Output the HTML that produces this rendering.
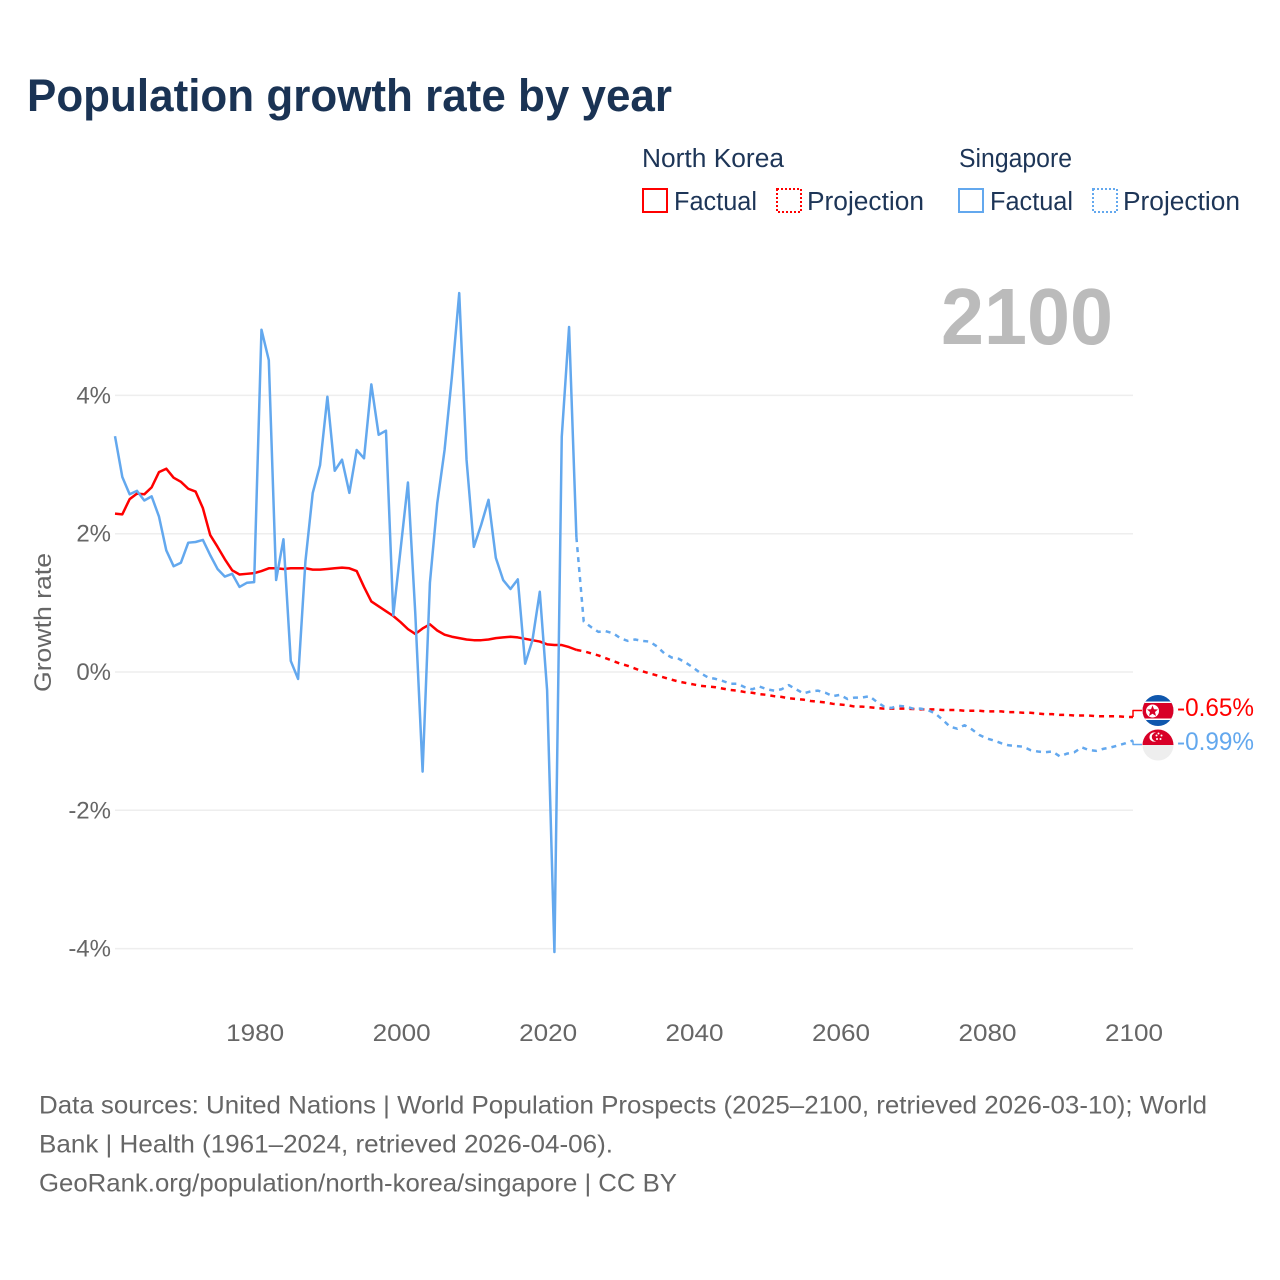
<!DOCTYPE html>
<html lang="en">
<head>
<meta charset="utf-8">
<title>Population growth rate by year</title>
<style>
html,body{margin:0;padding:0;background:#fff;}
svg{display:block;font-family:"Liberation Sans",sans-serif;}
</style>
</head>
<body>
<svg id="chart" xmlns="http://www.w3.org/2000/svg" width="1280" height="1280" viewBox="0 0 1280 1280">
  <rect width="1280" height="1280" fill="#fff"/>
  <text x="27" y="111" font-size="45" font-weight="700" fill="#1a3354" textLength="645" lengthAdjust="spacingAndGlyphs">Population growth rate by year</text>

  <g font-size="25.5" fill="#1d3557">
    <text x="642" y="167" textLength="142" lengthAdjust="spacingAndGlyphs">North Korea</text>
    <text x="959" y="167" textLength="113" lengthAdjust="spacingAndGlyphs">Singapore</text>
    <rect x="643" y="189" width="24" height="23" fill="none" stroke="#ff0000" stroke-width="2"/>
    <text x="674" y="210" textLength="83" lengthAdjust="spacingAndGlyphs">Factual</text>
    <rect x="777" y="189" width="24" height="23" fill="none" stroke="#ff0000" stroke-width="2" stroke-dasharray="2 2"/>
    <text x="807" y="210" textLength="117" lengthAdjust="spacingAndGlyphs">Projection</text>
    <rect x="959" y="189" width="24" height="23" fill="none" stroke="#63a8ee" stroke-width="2"/>
    <text x="990" y="210" textLength="83" lengthAdjust="spacingAndGlyphs">Factual</text>
    <rect x="1093" y="189" width="24" height="23" fill="none" stroke="#63a8ee" stroke-width="2" stroke-dasharray="2 2"/>
    <text x="1123" y="210" textLength="117" lengthAdjust="spacingAndGlyphs">Projection</text>
  </g>

  <text x="941" y="344" font-size="80" font-weight="700" fill="#bbbbbb" textLength="172" lengthAdjust="spacingAndGlyphs">2100</text>
  <text transform="translate(51,692) rotate(-90)" font-size="24" fill="#666666" textLength="139" lengthAdjust="spacingAndGlyphs">Growth rate</text>

  <g id="grid"></g>
  <g id="yticks" font-size="24" fill="#666666" text-anchor="end"></g>
  <g id="xticks" font-size="24" fill="#666666" text-anchor="middle"></g>
  <g id="series" fill="none" stroke-width="2.5" stroke-linejoin="round"></g>

  <defs>
    <clipPath id="flag-clip-nk"><circle cx="1158" cy="710.5" r="15.5"/></clipPath>
    <clipPath id="flag-clip-sg"><circle cx="1158" cy="745" r="15.5"/></clipPath>
  </defs>
  <g clip-path="url(#flag-clip-nk)">
    <rect x="1142" y="695" width="32" height="32" fill="#0f57ad"/>
    <rect x="1142" y="701.5" width="32" height="18.5" fill="#fff"/>
    <rect x="1142" y="703" width="32" height="15.5" fill="#d80027"/>
    <circle cx="1152.5" cy="711" r="6.5" fill="#fff"/>
    <polygon points="1152.5,705.5 1154,709.2 1158,709.5 1155,712 1156,716 1152.5,713.8 1149,716 1150,712 1147,709.5 1151,709.2" fill="#d80027"/>
  </g>
  <g clip-path="url(#flag-clip-sg)">
    <rect x="1142" y="729" width="32" height="16" fill="#d80027"/>
    <rect x="1142" y="745" width="32" height="16" fill="#eeeeee"/>
    <circle cx="1154" cy="737" r="4.6" fill="#fff"/>
    <circle cx="1156" cy="737" r="4.2" fill="#d80027"/>
    <circle cx="1158.5" cy="733.5" r="1" fill="#fff"/>
    <circle cx="1161.5" cy="735.5" r="1" fill="#fff"/>
    <circle cx="1160.5" cy="739" r="1" fill="#fff"/>
    <circle cx="1157" cy="739" r="1" fill="#fff"/>
    <circle cx="1156.5" cy="735.5" r="1" fill="#fff"/>
  </g>
  <text id="end-label-nk" x="1177" y="716" font-size="25" fill="#ff0000" textLength="77" lengthAdjust="spacingAndGlyphs"></text>
  <text id="end-label-sg" x="1177" y="750" font-size="25" fill="#63a8ee" textLength="77" lengthAdjust="spacingAndGlyphs"></text>

  <g font-size="25" fill="#666666">
    <text x="39" y="1113.5" textLength="1168" lengthAdjust="spacingAndGlyphs">Data sources: United Nations | World Population Prospects (2025–2100, retrieved 2026-03-10); World</text>
    <text x="39" y="1152.5" textLength="574" lengthAdjust="spacingAndGlyphs">Bank | Health (1961–2024, retrieved 2026-04-06).</text>
    <text x="39" y="1191.5" textLength="638" lengthAdjust="spacingAndGlyphs">GeoRank.org/population/north-korea/singapore | CC BY</text>
  </g>
</svg>
<script>
const factualStartYear = 1961;
const projectionStartYear = 2024;
const xTickYears = [1980, 2000, 2020, 2040, 2060, 2080, 2100];
const yTickValues = [4, 2, 0, -2, -4];
const northKoreaFactual = [
  2.29,2.28,2.50,2.58,2.57,2.67,2.89,2.94,2.81,2.75,
  2.65,2.61,2.37,1.98,1.81,1.63,1.47,1.41,1.42,1.43,
  1.46,1.50,1.50,1.49,1.50,1.50,1.50,1.48,1.48,1.49,
  1.50,1.51,1.50,1.46,1.23,1.02,0.95,0.88,0.81,0.72,
  0.62,0.55,0.63,0.69,0.60,0.54,0.51,0.49,0.47,0.46,
  0.46,0.47,0.49,0.50,0.51,0.50,0.48,0.46,0.44,0.40,
  0.39,0.39,0.36,0.32
];
const singaporeFactual = [
  3.41,2.82,2.57,2.62,2.48,2.54,2.25,1.76,1.53,1.58,
  1.87,1.88,1.91,1.69,1.49,1.38,1.42,1.23,1.29,1.30,
  4.95,4.51,1.33,1.92,0.16,-0.10,1.60,2.59,2.99,3.98,
  2.91,3.07,2.59,3.21,3.09,4.16,3.43,3.49,0.82,1.78,
  2.74,0.85,-1.44,1.29,2.44,3.21,4.27,5.48,3.07,1.81,
  2.13,2.49,1.65,1.33,1.20,1.34,0.12,0.46,1.16,-0.26,
  -4.05,3.40,4.99,1.95
];
const northKoreaProjection = [
  0.32,0.30,0.27,0.24,0.20,0.16,0.12,0.09,0.05,0.01,-0.02,
  -0.05,-0.08,-0.11,-0.14,-0.16,-0.18,-0.20,-0.21,-0.22,-0.24,
  -0.26,-0.27,-0.29,-0.30,-0.32,-0.33,-0.35,-0.36,-0.38,-0.39,
  -0.40,-0.42,-0.43,-0.44,-0.46,-0.47,-0.48,-0.50,-0.50,-0.51,
  -0.52,-0.53,-0.53,-0.53,-0.53,-0.535,-0.54,-0.54,-0.54,-0.55,
  -0.55,-0.55,-0.56,-0.56,-0.56,-0.57,-0.57,-0.57,-0.58,-0.58,
  -0.59,-0.59,-0.60,-0.61,-0.61,-0.62,-0.62,-0.63,-0.63,-0.63,
  -0.64,-0.64,-0.64,-0.64,-0.65,-0.65
];
const singaporeProjection = [
  1.95,0.73,0.65,0.58,0.59,0.56,0.49,0.45,0.47,0.45,0.44,
  0.37,0.27,0.21,0.19,0.13,0.06,-0.02,-0.08,-0.10,-0.13,
  -0.17,-0.17,-0.22,-0.25,-0.21,-0.25,-0.27,-0.25,-0.19,-0.25,
  -0.31,-0.28,-0.27,-0.30,-0.35,-0.33,-0.39,-0.37,-0.37,-0.35,
  -0.43,-0.50,-0.52,-0.49,-0.50,-0.53,-0.53,-0.55,-0.60,-0.69,
  -0.79,-0.82,-0.77,-0.83,-0.91,-0.96,-0.99,-1.03,-1.06,-1.07,
  -1.08,-1.13,-1.15,-1.16,-1.15,-1.22,-1.18,-1.16,-1.09,-1.13,
  -1.14,-1.11,-1.09,-1.06,-1.03,-0.99
];

const SVG_NS = 'http://www.w3.org/2000/svg';
const plotLeft = 115, plotRight = 1133;
const xScale = year => plotLeft + (year - 1961) * (plotRight - plotLeft) / (2100 - 1961);
const yScale = value => 672 - value * 69.15;

function linePath(startYear, values) {
  return values.map((v, i) => (i ? 'L' : 'M') + xScale(startYear + i).toFixed(2) + ' ' + yScale(v).toFixed(2)).join(' ');
}

const grid = document.getElementById('grid');
const yTicks = document.getElementById('yticks');
const xTicks = document.getElementById('xticks');
const series = document.getElementById('series');

yTickValues.forEach(function (v) {
  const line = document.createElementNS(SVG_NS, 'line');
  
  
  line.setAttribute('x1', plotLeft);
  line.setAttribute('x2', plotRight);
  line.setAttribute('y1', yScale(v));
  line.setAttribute('y2', yScale(v));
  line.setAttribute('stroke', '#eeeeee');
  line.setAttribute('stroke-width', '1.5');
  grid.appendChild(line);

  const label = document.createElementNS(SVG_NS, 'text');
  
  
  label.setAttribute('x', 111);
  label.setAttribute('y', yScale(v) + 8);
  label.textContent = v + '%';
  yTicks.appendChild(label);
});

xTickYears.forEach(function (year) {
  const label = document.createElementNS(SVG_NS, 'text');
  
  
  label.setAttribute('x', xScale(year) + 1);
  label.setAttribute('y', 1041);
  label.setAttribute('textLength', 58);
  label.setAttribute('lengthAdjust', 'spacingAndGlyphs');
  label.textContent = String(year);
  xTicks.appendChild(label);
});

function addLine(d, color, dashed, width) {
  const path = document.createElementNS(SVG_NS, 'path');
  
  
  path.setAttribute('d', d);
  path.setAttribute('stroke', color);
  if (dashed) path.setAttribute('stroke-dasharray', '5 5');
  if (width) path.setAttribute('stroke-width', width);
  series.appendChild(path);
}

addLine(linePath(factualStartYear, northKoreaFactual), '#ff0000', false);
addLine(linePath(projectionStartYear, northKoreaProjection), '#ff0000', true);
addLine(linePath(factualStartYear, singaporeFactual), '#63a8ee', false);
addLine(linePath(projectionStartYear, singaporeProjection), '#63a8ee', true);

const nkLast = northKoreaProjection[northKoreaProjection.length - 1];
const sgLast = singaporeProjection[singaporeProjection.length - 1];
addLine('M' + xScale(2100) + ' ' + yScale(nkLast) + ' L' + xScale(2100) + ' 710.5 L1142 710.5', '#ff0000', false, 1.5);
addLine('M' + xScale(2100) + ' ' + yScale(sgLast) + ' L' + xScale(2100) + ' 744.5 L1142 744.5', '#63a8ee', false, 1.5);

document.getElementById('end-label-nk').textContent = nkLast.toFixed(2) + '%';
document.getElementById('end-label-sg').textContent = sgLast.toFixed(2) + '%';
</script>
</body>
</html>
